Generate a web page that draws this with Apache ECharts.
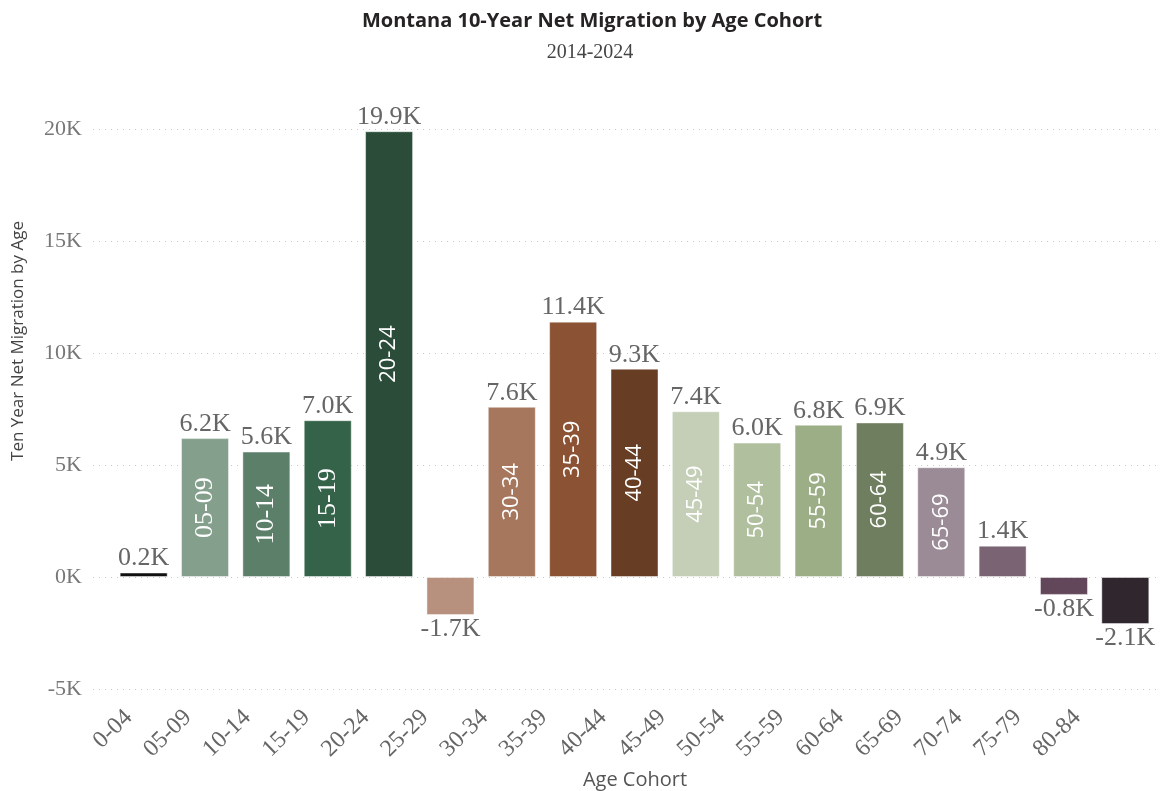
<!DOCTYPE html>
<html>
<head>
<meta charset="utf-8">
<script src="https://cdn.jsdelivr.net/npm/echarts@6/dist/echarts.min.js"></script>
<style>
  html, body { margin: 0; padding: 0; background: #fff; }
  #chart { width: 1162px; height: 791px; }
</style>
</head>
<body>
<div id="chart"></div>
<script>
// Age cohorts and ten-year net migration (thousands of people)
const cohorts = ['0-04', '05-09', '10-14', '15-19', '20-24', '25-29', '30-34', '35-39', '40-44',
                 '45-49', '50-54', '55-59', '60-64', '65-69', '70-74', '75-79', '80-84'];
const netMigrationK = [0.2, 6.2, 5.6, 7.0, 19.9, -1.7, 7.6, 11.4, 9.3, 7.4, 6.0, 6.8, 6.9, 4.9, 1.4, -0.8, -2.1];
const barColors = ['#111111', '#84a08d', '#5b7f69', '#34634a', '#2a4c39', '#b8917e', '#a6775d', '#8b5233',
                   '#673d24', '#c5cfb7', '#b0bf9e', '#9cae86', '#6f7e5e', '#9a8b96', '#7a6474', '#624659', '#30262e'];
const yTicks = { min: -5, max: 20, step: 5 };

const serif = '"Liberation Serif", "Times New Roman", serif';
const sans = '"Open Sans", "Noto Sans", sans-serif';
const serifInBar = new Set(['05-09', '10-14', '15-19']);

const gridTop = 129, gridBottom = 791 - 689;
const fmtK = v => v.toFixed(1) + 'K';

const chart = echarts.init(document.getElementById('chart'));
chart.setOption({
  animation: false,
  grid: [
    { left: 93, right: 2, top: gridTop, bottom: gridBottom },    // gridlines + value axis
    { left: 113, right: 6, top: gridTop, bottom: gridBottom },   // bars
    { left: 99, right: 55, top: gridTop, bottom: gridBottom }    // cohort tick labels
  ],
  xAxis: [
    { gridIndex: 0, type: 'category', data: cohorts, show: false },
    { gridIndex: 1, type: 'category', data: cohorts, show: false },
    { gridIndex: 2, type: 'category', data: cohorts, position: 'bottom',
      axisLine: { show: false }, axisTick: { show: false },
      axisLabel: { rotate: 44, margin: 25, interval: 0, color: '#666',
                   fontFamily: serif, fontSize: 24 } }
  ],
  yAxis: [
    { gridIndex: 0, type: 'value', min: yTicks.min, max: yTicks.max, interval: yTicks.step,
      axisLine: { show: false }, axisTick: { show: false },
      axisLabel: { margin: 11, color: '#777', fontFamily: serif, fontSize: 22,
                   formatter: v => v + 'K' },
      splitLine: { show: true, lineStyle: { color: '#c8c8c8', width: 1, type: [1, 5] } } },
    { gridIndex: 1, type: 'value', min: yTicks.min, max: yTicks.max, interval: yTicks.step, show: false,
      splitLine: { show: false } },
    { gridIndex: 2, type: 'value', min: yTicks.min, max: yTicks.max, interval: yTicks.step, show: false,
      splitLine: { show: false } }
  ],
  series: [
    {
      type: 'bar', xAxisIndex: 1, yAxisIndex: 1, barWidth: 48,
      data: netMigrationK.map((v, i) => ({
        value: v,
        itemStyle: { color: barColors[i], borderColor: 'rgba(255,255,255,0.45)', borderWidth: 1 }
      })),
      label: { show: true, position: 'outside', distance: 1, color: '#666',
               fontFamily: serif, fontSize: 26, formatter: p => fmtK(p.value) }
    },
    {
      type: 'bar', xAxisIndex: 1, yAxisIndex: 1, barWidth: 48, barGap: '-100%', z: 3,
      silent: true,
      data: netMigrationK.map((v, i) => ({
        value: v,
        itemStyle: { color: 'rgba(0,0,0,0)' },
        label: {
          show: v >= 4,
          fontFamily: serifInBar.has(cohorts[i]) ? serif : sans,
          fontSize: serifInBar.has(cohorts[i]) ? 26 : 22
        }
      })),
      label: { position: 'inside', rotate: 90, color: '#fff', formatter: p => p.name }
    }
  ],
  graphic: [
    { type: 'text', x: 592, y: 21,
      style: { text: 'Montana 10-Year Net Migration by Age Cohort', fill: '#252423',
               font: `700 20px ${sans}`, textAlign: 'center', textVerticalAlign: 'middle' } },
    { type: 'text', x: 590, y: 53,
      style: { text: '2014-2024', fill: '#444', font: `20px ${serif}`,
               textAlign: 'center', textVerticalAlign: 'middle' } },
    { type: 'text', x: 18, y: 341, rotation: Math.PI / 2,
      style: { text: 'Ten Year Net Migration by Age', fill: '#444', font: `17px ${sans}`,
               textAlign: 'center', textVerticalAlign: 'middle' } },
    { type: 'text', x: 635, y: 780,
      style: { text: 'Age Cohort', fill: '#555', font: `20px ${sans}`,
               textAlign: 'center', textVerticalAlign: 'middle' } }
  ]
});
</script>
</body>
</html>
